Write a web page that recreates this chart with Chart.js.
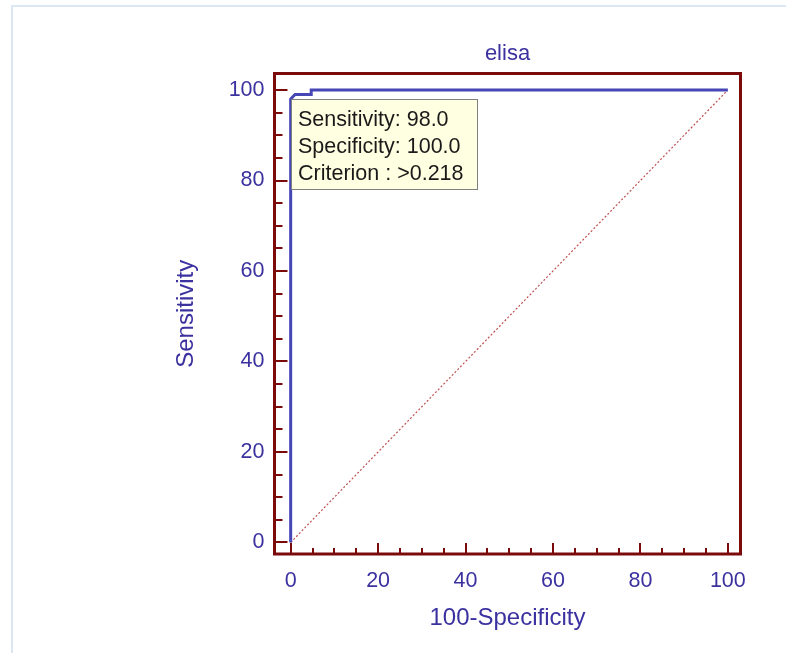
<!DOCTYPE html>
<html>
<head>
<meta charset="utf-8">
<script src="https://cdn.jsdelivr.net/npm/chart.js@4.4.1/dist/chart.umd.min.js"></script>
<style>
  body { margin: 0; background: #fff; }
  #pageFrame { position: absolute; left: 11px; top: 5px; right: 0; bottom: 0;
    border-top: 2px solid #dde7f4; border-left: 2px solid #dde7f4; }
  canvas { position: absolute; left: 0; top: 0; }
</style>
</head>
<body>
<div id="pageFrame"></div>
<canvas id="rocChart" width="786" height="653"></canvas>
<script>
// ROC curve (100-Specificity, Sensitivity)
var rocX = [0, 0, 1, 4.7, 4.7, 100];
var rocY = [0, 98, 99, 99, 100, 100];
// reference diagonal
var refX = [0, 100];
var refY = [0, 100];
var xTicks = [0, 20, 40, 60, 80, 100];
var yTicks = [0, 20, 40, 60, 80, 100];
var minorTicks = [0, 5, 10, 15, 20, 25, 30, 35, 40, 45, 50, 55, 60, 65, 70, 75, 80, 85, 90, 95, 100];
// optimal cut-off point
var cutX = 0;
var cutY = 98;
var criterion = '>0.218';

var labelColor = '#3b32a0';
var frameColor = '#7b0a0a';

function toPoints(xs, ys) {
    return xs.map(function (x, i) { return { x: x, y: ys[i] }; });
}

var tickPlugin = {
    id: 'innerTicks',
    beforeDatasetsDraw: function (chart) {
        var ctx = chart.ctx, a = chart.chartArea;
        var xs = chart.scales.x, ys = chart.scales.y;
        ctx.save();
        ctx.strokeStyle = frameColor;
        ctx.lineWidth = 2;
        minorTicks.forEach(function (v) {
            var major = v % 20 === 0;
            var px = Math.round(xs.getPixelForValue(v));
            ctx.beginPath();
            ctx.moveTo(px, a.bottom);
            ctx.lineTo(px, a.bottom - (major ? 11 : 6));
            ctx.stroke();
            var py = Math.round(ys.getPixelForValue(v));
            ctx.beginPath();
            ctx.moveTo(a.left, py);
            ctx.lineTo(a.left + (major ? 13 : 8), py);
            ctx.stroke();
        });
        ctx.restore();
    },
    afterDatasetsDraw: function (chart) {
        var ctx = chart.ctx, a = chart.chartArea;
        ctx.save();
        ctx.strokeStyle = frameColor;
        ctx.lineWidth = 3;
        ctx.strokeRect(a.left, a.top, a.right - a.left, a.bottom - a.top);
        ctx.restore();
    }
};

var cutoffPlugin = {
    id: 'cutoffBox',
    afterDraw: function (chart) {
        var ctx = chart.ctx;
        var px = Math.round(chart.scales.x.getPixelForValue(cutX));
        var py = Math.round(chart.scales.y.getPixelForValue(cutY));
        var lines = [
            'Sensitivity: ' + cutY.toFixed(1),
            'Specificity: ' + (100 - cutX).toFixed(1),
            'Criterion : ' + criterion
        ];
        ctx.save();
        ctx.fillStyle = '#ffffe1';
        ctx.fillRect(px, py, 187, 91);
        ctx.strokeStyle = '#808080';
        ctx.lineWidth = 1;
        ctx.strokeRect(px + 0.5, py + 0.5, 186, 90);
        ctx.fillStyle = '#1a1a1a';
        ctx.font = '21.5px "Liberation Sans", Arial, sans-serif';
        ctx.textBaseline = 'alphabetic';
        lines.forEach(function (t, i) {
            ctx.fillText(t, px + 7, py + 27 + i * 26.8);
        });
        ctx.restore();
    }
};

Chart.defaults.font.family = '"Liberation Sans", Arial, sans-serif';

var ctx = document.getElementById('rocChart').getContext('2d');
var rocChart = new Chart(ctx, {
    type: 'scatter',
    data: {
        datasets: [
            {
                data: toPoints(rocX, rocY),
                showLine: true,
                borderColor: '#4646b6',
                borderWidth: 3,
                pointRadius: 0,
                fill: false
            },
            {
                data: toPoints(refX, refY),
                showLine: true,
                borderColor: '#c05050',
                borderWidth: 1.2,
                borderDash: [2, 2],
                pointRadius: 0,
                fill: false
            }
        ]
    },
    options: {
        responsive: false,
        animation: false,
        events: [],
        layout: { padding: { left: 150, right: 45.5, top: 0, bottom: 0 } },
        plugins: {
            legend: { display: false },
            tooltip: { enabled: false },
            title: {
                display: true,
                text: 'elisa',
                fullSize: false,
                color: labelColor,
                font: { size: 22, weight: 'normal' },
                padding: { top: 41, bottom: 6.1 }
            }
        },
        scales: {
            x: {
                type: 'linear',
                min: -3.7,
                max: 102.9,
                afterBuildTicks: function (s) { s.ticks = xTicks.map(function (v) { return { value: v }; }); },
                afterFit: function (s) { s.height = 99; },
                grid: { display: false },
                border: { display: false },
                ticks: { color: labelColor, font: { size: 21.5 }, padding: 6 },
                title: {
                    display: true,
                    text: '100-Specificity',
                    color: labelColor,
                    font: { size: 24 },
                    padding: { top: 0, bottom: 20 }
                }
            },
            y: {
                type: 'linear',
                min: -2.55,
                max: 103.65,
                afterBuildTicks: function (s) { s.ticks = yTicks.map(function (v) { return { value: v }; }); },
                afterFit: function (s) { s.width = 124.5; },
                grid: { display: false },
                border: { display: false },
                ticks: { color: labelColor, font: { size: 21.5 }, padding: 2 },
                title: {
                    display: true,
                    text: 'Sensitivity',
                    color: labelColor,
                    font: { size: 24 },
                    padding: { top: 21.5, bottom: 0 }
                }
            }
        }
    },
    plugins: [tickPlugin, cutoffPlugin]
});
</script>
</body>
</html>
